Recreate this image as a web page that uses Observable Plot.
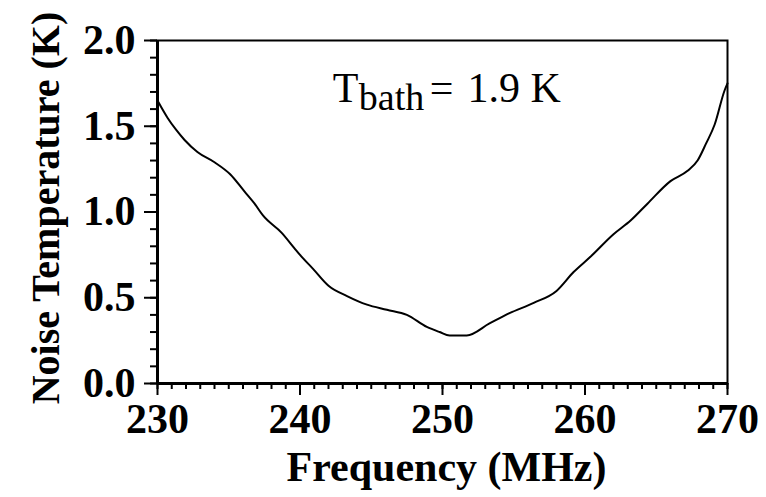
<!DOCTYPE html>
<html>
<head>
<meta charset="utf-8">
<script src="https://cdn.jsdelivr.net/npm/d3@7"></script>
<script src="https://cdn.jsdelivr.net/npm/@observablehq/plot@0.6"></script>
<style>
  body { margin: 0; background: #fff; }
</style>
</head>
<body>
<div id="chart"></div>
<script>
// Measured noise temperature of the amplifier versus frequency
const frequency = [230.0, 230.7, 231.3, 231.9, 232.8, 234.0, 235.1, 236.1, 236.8, 237.4,
                   238.7, 239.6, 240.0, 240.9, 242.0, 243.3, 244.7, 246.1, 247.5, 248.9,
                   249.8, 250.5, 251.7, 253.3, 254.7, 256.4, 258.0, 259.2, 260.4, 262.0,
                   263.2, 264.4, 266.0, 267.2, 267.9, 268.5, 269.1, 269.8, 270.0];
const noiseTemp = [1.65, 1.55, 1.48, 1.42, 1.35, 1.29, 1.22, 1.12, 1.05, 0.98,
                   0.88, 0.79, 0.75, 0.67, 0.57, 0.51, 0.46, 0.43, 0.40, 0.33,
                   0.30, 0.28, 0.28, 0.35, 0.41, 0.47, 0.54, 0.65, 0.74, 0.87,
                   0.95, 1.05, 1.18, 1.24, 1.30, 1.40, 1.51, 1.71, 1.75];

// Axis ticks
const xMajorTicks = [230, 240, 250, 260, 270];
const xMinorTicks = d3.range(230, 271, 1);
const yMajorTicks = [0, 0.5, 1.0, 1.5, 2.0];
const yMinorTicks = d3.range(0, 2.01, 0.1);

// Titles and the bath-temperature note
const xTitle = "Frequency (MHz)";
const yTitle = "Noise Temperature (K)";
const noteParts = ["T", "bath", "=\u20041.9 K"];
const noteFreq = 242.3;
const noteTemp = 1.64;

const rows = frequency.map((f, i) => ({freq: f, temp: noiseTemp[i]}));

const serif = "'Liberation Serif', 'Times New Roman', Times, serif";

const chart = Plot.plot({
  width: 766,
  height: 497,
  marginLeft: 157,
  marginRight: 39,
  marginTop: 40,
  marginBottom: 114,
  x: {domain: [230, 270], label: null},
  y: {domain: [0, 2], label: null},
  style: {fontFamily: serif, fontSize: "42px", fontWeight: "bold", color: "#000", background: "#fff"},
  marks: [
    Plot.frame({stroke: "#000", strokeWidth: 2}),
    Plot.ruleX([230], {stroke: "#000", strokeWidth: 3}),
    Plot.ruleY([0], {stroke: "#000", strokeWidth: 3}),
    Plot.axisX(xMinorTicks, {tickSize: 6, tickFormat: () => "", strokeWidth: 2, label: null}),
    Plot.axisX(xMajorTicks, {tickSize: 12, tickPadding: 8, tickFormat: d => String(d),
      fontSize: 42, fontWeight: "bold", fontFamily: serif, strokeWidth: 2, label: null}),
    Plot.axisY(yMinorTicks, {tickSize: 7, tickFormat: () => "", strokeWidth: 2, label: null}),
    Plot.axisY(yMajorTicks, {tickSize: 13, tickPadding: 9, tickFormat: d3.format(".1f"),
      fontSize: 42, fontWeight: "bold", fontFamily: serif, strokeWidth: 2, label: null}),
    Plot.line(rows, {x: "freq", y: "temp", stroke: "#000", strokeWidth: 2, curve: "monotone-x"}),
    Plot.text([xTitle], {text: d => d, frameAnchor: "bottom", textAnchor: "middle", dx: 4, dy: 97,
      lineAnchor: "bottom", fontSize: 42, fontWeight: "bold", fontFamily: serif, fill: "#000"}),
    Plot.text([yTitle], {text: d => d, frameAnchor: "left", textAnchor: "middle", dx: -99, dy: -4,
      rotate: -90, lineAnchor: "bottom", fontSize: 40, fontWeight: "bold", fontFamily: serif, fill: "#000"}),
    Plot.text([noteParts[0]], {text: d => d, x: () => noteFreq, y: () => noteTemp,
      textAnchor: "start", lineAnchor: "bottom", fontSize: 42, fontWeight: "normal", fontFamily: serif, fill: "#000"}),
    Plot.text([noteParts[1]], {text: d => d, x: () => noteFreq, y: () => noteTemp, dx: 26, dy: 8,
      textAnchor: "start", lineAnchor: "bottom", fontSize: 38, fontWeight: "normal", fontFamily: serif, fill: "#000"}),
    Plot.text([noteParts[2]], {text: d => d, x: () => noteFreq, y: () => noteTemp, dx: 97,
      textAnchor: "start", lineAnchor: "bottom", fontSize: 42, fontWeight: "normal", fontFamily: serif, fill: "#000"})
  ]
});

document.getElementById("chart").appendChild(chart);
</script>
</body>
</html>
